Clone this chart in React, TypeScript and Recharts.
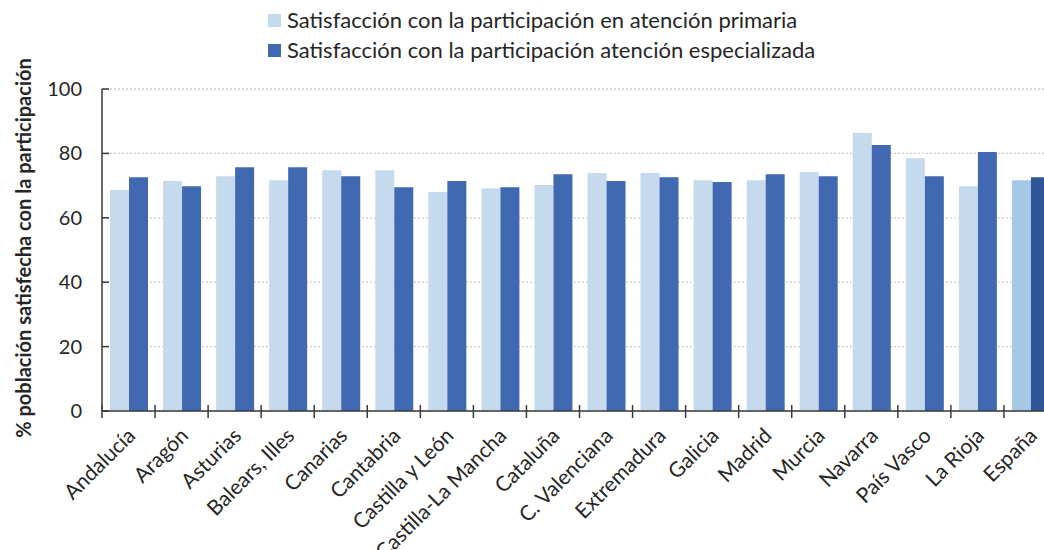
import { BarChart, Bar, XAxis, YAxis, CartesianGrid, Cell } from 'recharts'

const regions = [
  'Andalucía', 'Aragón', 'Asturias', 'Balears, Illes', 'Canarias', 'Cantabria',
  'Castilla y León', 'Castilla-La Mancha', 'Cataluña', 'C. Valenciana', 'Extremadura',
  'Galicia', 'Madrid', 'Murcia', 'Navarra', 'País Vasco', 'La Rioja', 'España',
]
const primaria = [68.6, 71.4, 72.9, 71.7, 74.8, 74.8, 68.0, 69.2, 70.2, 73.9, 73.9, 71.7, 71.7, 74.2, 86.3, 78.5, 69.8, 71.7]
const especializada = [72.6, 69.8, 75.7, 75.7, 72.9, 69.5, 71.4, 69.5, 73.5, 71.4, 72.6, 71.1, 73.5, 72.9, 82.6, 72.9, 80.4, 72.6]
const yTicks = [0, 20, 40, 60, 80, 100]
const totalLabel = 'España'

const seriesNames = [
  'Satisfacción con la participación en atención primaria',
  'Satisfacción con la participación atención especializada',
]

const data = regions.map((r, i) => ({ region: r, primaria: primaria[i], especializada: especializada[i] }))

const FONT = 'Lato, "Open Sans", sans-serif'
const TEXT = '#262626'
const AXIS = '#3a3a3a'
const LIGHT = '#c6daee'
const DARK = '#4169b2'
const LIGHT_TOTAL = '#a6c8e6'
const DARK_TOTAL = '#2e5597'

const CHART_W = 1057
const Y_W = 102
const BAND = (CHART_W - Y_W) / regions.length

const XTick = ({ x, y, payload }: any) => {
  const tx = x + 8
  const ty = y + 26
  return (
    <g>
      <line x1={x - BAND / 2} x2={x - BAND / 2} y1={y - 6} y2={y + 7} stroke={AXIS} strokeWidth={1.5} />
      <text x={tx} y={ty} transform={`rotate(-45 ${tx} ${ty})`} textAnchor="end"
        fill={TEXT} fontSize={21} fontFamily={FONT}>
        {payload.value}
      </text>
    </g>
  )
}

const YTick = ({ x, y, payload }: any) => (
  <g>
    <line x1={x} x2={x + 7} y1={y} y2={y} stroke={AXIS} strokeWidth={1.5} />
    <text x={x - 20} y={y + 7} textAnchor="end" fill={TEXT} fontSize={20} fontFamily={FONT}>
      {payload.value}
    </text>
  </g>
)

const YLabel = ({ viewBox }: any) => {
  const cy = viewBox.y + viewBox.height / 2 - 2
  return (
    <text x={31} y={cy} transform={`rotate(-90 31 ${cy})`} textAnchor="middle"
      fill={TEXT} fontSize={20} fontWeight="bold" fontFamily={FONT}>
      % población satisfecha con la participación
    </text>
  )
}

export default function App() {
  return (
    <div style={{ position: 'absolute', left: 0, top: 0, width: 1044, height: 550, overflow: 'hidden', background: '#fff' }}>
      <div style={{ position: 'absolute', left: 268, top: 5, fontFamily: FONT, fontSize: 22, color: TEXT, lineHeight: '30px' }}>
        {seriesNames.map((n, i) => (
          <div key={n} style={{ display: 'flex', alignItems: 'center' }}>
            <span style={{ width: 13, height: 13, background: i === 0 ? LIGHT : DARK, marginRight: 6, display: 'inline-block' }} />
            {n}
          </div>
        ))}
      </div>
      <BarChart width={CHART_W} height={550} data={data} barSize={19} barGap={0}
        margin={{ top: 89, right: 0, bottom: 109, left: 0 }}>
        <CartesianGrid vertical={false} stroke="#cccccc" strokeDasharray="2 2" strokeWidth={1.3} />
        <XAxis dataKey="region" height={30} interval={0} tickSize={0} tickMargin={0} tickLine={false}
          axisLine={{ stroke: AXIS, strokeWidth: 1.5 }} tick={<XTick />} />
        <YAxis width={Y_W} domain={[0, 100]} ticks={yTicks} tickSize={0} tickMargin={0} tickLine={false}
          axisLine={{ stroke: AXIS, strokeWidth: 1.5 }} tick={<YTick />} label={<YLabel />} />
        <Bar dataKey="primaria" name={seriesNames[0]} fill={LIGHT} isAnimationActive={false}>
          {data.map(d => <Cell key={d.region} fill={d.region === totalLabel ? LIGHT_TOTAL : LIGHT} />)}
        </Bar>
        <Bar dataKey="especializada" name={seriesNames[1]} fill={DARK} isAnimationActive={false}>
          {data.map(d => <Cell key={d.region} fill={d.region === totalLabel ? DARK_TOTAL : DARK} />)}
        </Bar>
      </BarChart>
    </div>
  )
}
